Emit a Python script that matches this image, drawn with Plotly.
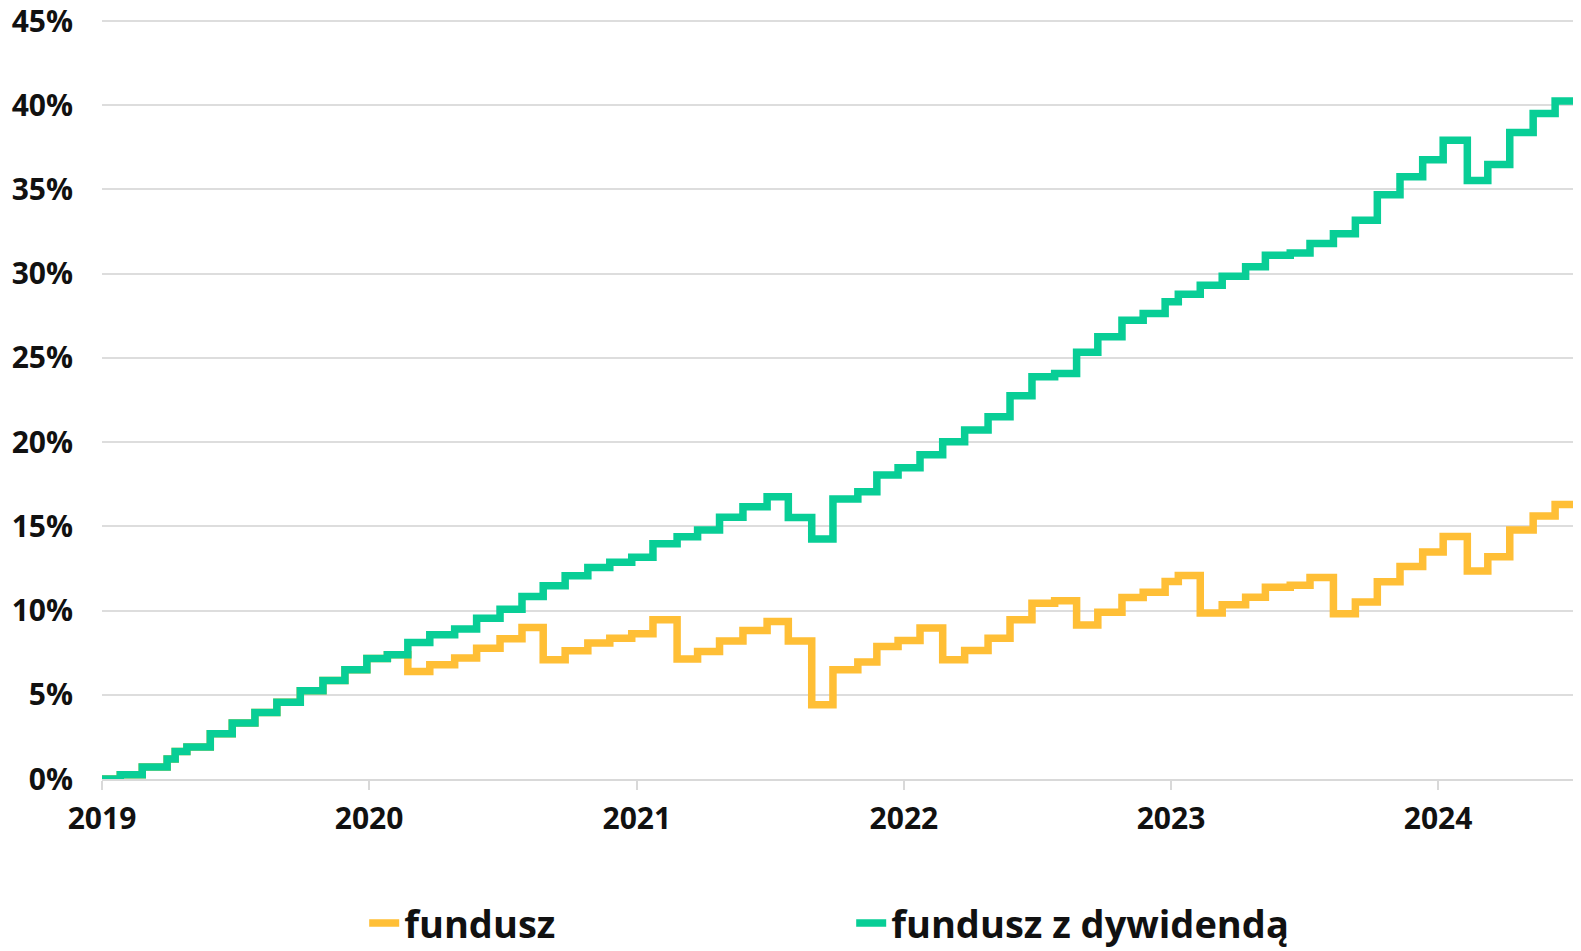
import plotly.graph_objects as go

# Step dates (when the value changes)
dates = [
    "2019-01-01", "2019-01-26", "2019-02-25", "2019-03-31", "2019-04-11", "2019-04-27",
    "2019-05-29", "2019-06-28", "2019-07-29", "2019-08-28", "2019-09-29", "2019-10-30",
    "2019-11-29", "2019-12-29", "2020-01-26", "2020-02-23", "2020-03-24", "2020-04-27",
    "2020-05-27", "2020-06-28", "2020-07-28", "2020-08-26", "2020-09-25", "2020-10-26",
    "2020-11-25", "2020-12-25", "2021-01-23", "2021-02-25", "2021-03-25", "2021-04-24",
    "2021-05-26", "2021-06-28", "2021-07-27", "2021-08-28", "2021-09-26", "2021-10-30",
    "2021-11-25", "2021-12-24", "2022-01-23", "2022-02-23", "2022-03-25", "2022-04-26",
    "2022-05-26", "2022-06-25", "2022-07-26", "2022-08-25", "2022-09-23", "2022-10-26",
    "2022-11-24", "2022-12-24", "2023-01-11", "2023-02-10", "2023-03-12", "2023-04-13",
    "2023-05-10", "2023-06-13", "2023-07-10", "2023-08-11", "2023-09-10", "2023-10-10",
    "2023-11-10", "2023-12-11", "2024-01-08", "2024-02-10", "2024-03-09", "2024-04-08",
    "2024-05-10", "2024-06-09", "2024-07-13",
]

# fund with dividend (green), % cumulative return
fundusz_z_dywidenda = [
    0.00, 0.25, 0.71, 1.19, 1.64, 1.90,
    2.69, 3.32, 3.95, 4.55, 5.24, 5.85,
    6.48, 7.15, 7.37, 8.10, 8.56, 8.91,
    9.55, 10.08, 10.83, 11.48, 12.06, 12.55,
    12.87, 13.17, 13.96, 14.39, 14.79, 15.54,
    16.17, 16.76, 15.52, 14.25, 16.62, 17.06,
    18.05, 18.48, 19.25, 20.02, 20.72, 21.51,
    22.75, 23.88, 24.08, 25.33, 26.25, 27.24,
    27.64, 28.33, 28.78, 29.32, 29.85, 30.42,
    31.10, 31.23, 31.80, 32.37, 33.17, 34.69,
    35.75, 36.77, 37.93, 35.54, 36.49, 38.39,
    39.51, 40.25, 40.25,
]

# fund without dividend (yellow), % cumulative return
fundusz = [
    0.00, 0.25, 0.71, 1.19, 1.64, 1.90,
    2.69, 3.32, 3.95, 4.55, 5.24, 5.85,
    6.48, 7.15, 7.37, 6.38, 6.78, 7.18,
    7.77, 8.32, 8.99, 7.08, 7.61, 8.07,
    8.36, 8.62, 9.45, 7.13, 7.57, 8.20,
    8.81, 9.35, 8.20, 4.41, 6.48, 6.94,
    7.87, 8.23, 8.96, 7.08, 7.63, 8.36,
    9.45, 10.44, 10.59, 9.15, 9.90, 10.77,
    11.09, 11.72, 12.08, 9.85, 10.34, 10.79,
    11.38, 11.50, 11.97, 9.81, 10.51, 11.71,
    12.62, 13.47, 14.40, 12.35, 13.19, 14.78,
    15.62, 16.30, 16.30,
]

y_ticks = [0, 5, 10, 15, 20, 25, 30, 35, 40, 45]
y_ticktext = [f"{v}%" for v in y_ticks]
x_ticks = ["2019-01-01", "2020-01-01", "2021-01-01", "2022-01-01", "2023-01-01", "2024-01-01"]
x_ticktext = ["2019", "2020", "2021", "2022", "2023", "2024"]

YELLOW = "#FFBF36"
GREEN = "#08CE96"
FONT = "Open Sans"

fig = go.Figure()
fig.add_trace(go.Scatter(
    x=dates, y=fundusz, name="fundusz", mode="lines",
    line=dict(color=YELLOW, width=7.5, shape="hv"),
))
fig.add_trace(go.Scatter(
    x=dates, y=fundusz_z_dywidenda, name="fundusz z dywidendą", mode="lines",
    line=dict(color=GREEN, width=7.5, shape="hv"),
))

# page body has an 8px margin, so the figure is sized/offset to compensate
fig.update_layout(
    width=1573, height=943,
    margin=dict(l=94, r=1, t=8, b=171.7, autoexpand=False),
    paper_bgcolor="white", plot_bgcolor="white",
    font=dict(family=FONT, color="#111111"),
    showlegend=True,
    legend=dict(
        orientation="h", x=0.1774, xanchor="left", y=-0.189, yanchor="middle",
        font=dict(family=FONT, size=38, color="#111111", weight="bold"),
        entrywidth=442, entrywidthmode="pixels",
        itemclick=False, itemdoubleclick=False, bgcolor="rgba(0,0,0,0)",
    ),
    xaxis=dict(
        type="date", range=["2019-01-01", "2024-07-13"], automargin=False,
        tickvals=x_ticks, ticktext=x_ticktext,
        ticks="outside", ticklen=9, tickwidth=2, tickcolor="#d9d9d9",
        showgrid=False, showline=True, linecolor="#d9d9d9", linewidth=2,
        tickfont=dict(family=FONT, size=30, color="#111111", weight="bold"),
        ticklabelstandoff=3, zeroline=False, ticklabeloverflow="allow",
    ),
    yaxis=dict(
        range=[0, 45.3], tickvals=y_ticks, ticktext=y_ticktext, automargin=False,
        showgrid=True, gridcolor="#dddddd", gridwidth=2,
        zeroline=False, showline=False, ticks="",
        tickfont=dict(family=FONT, size=30, color="#111111", weight="bold"),
        ticklabelstandoff=28, ticklabeloverflow="allow",
    ),
)

fig.write_html("out.html")
